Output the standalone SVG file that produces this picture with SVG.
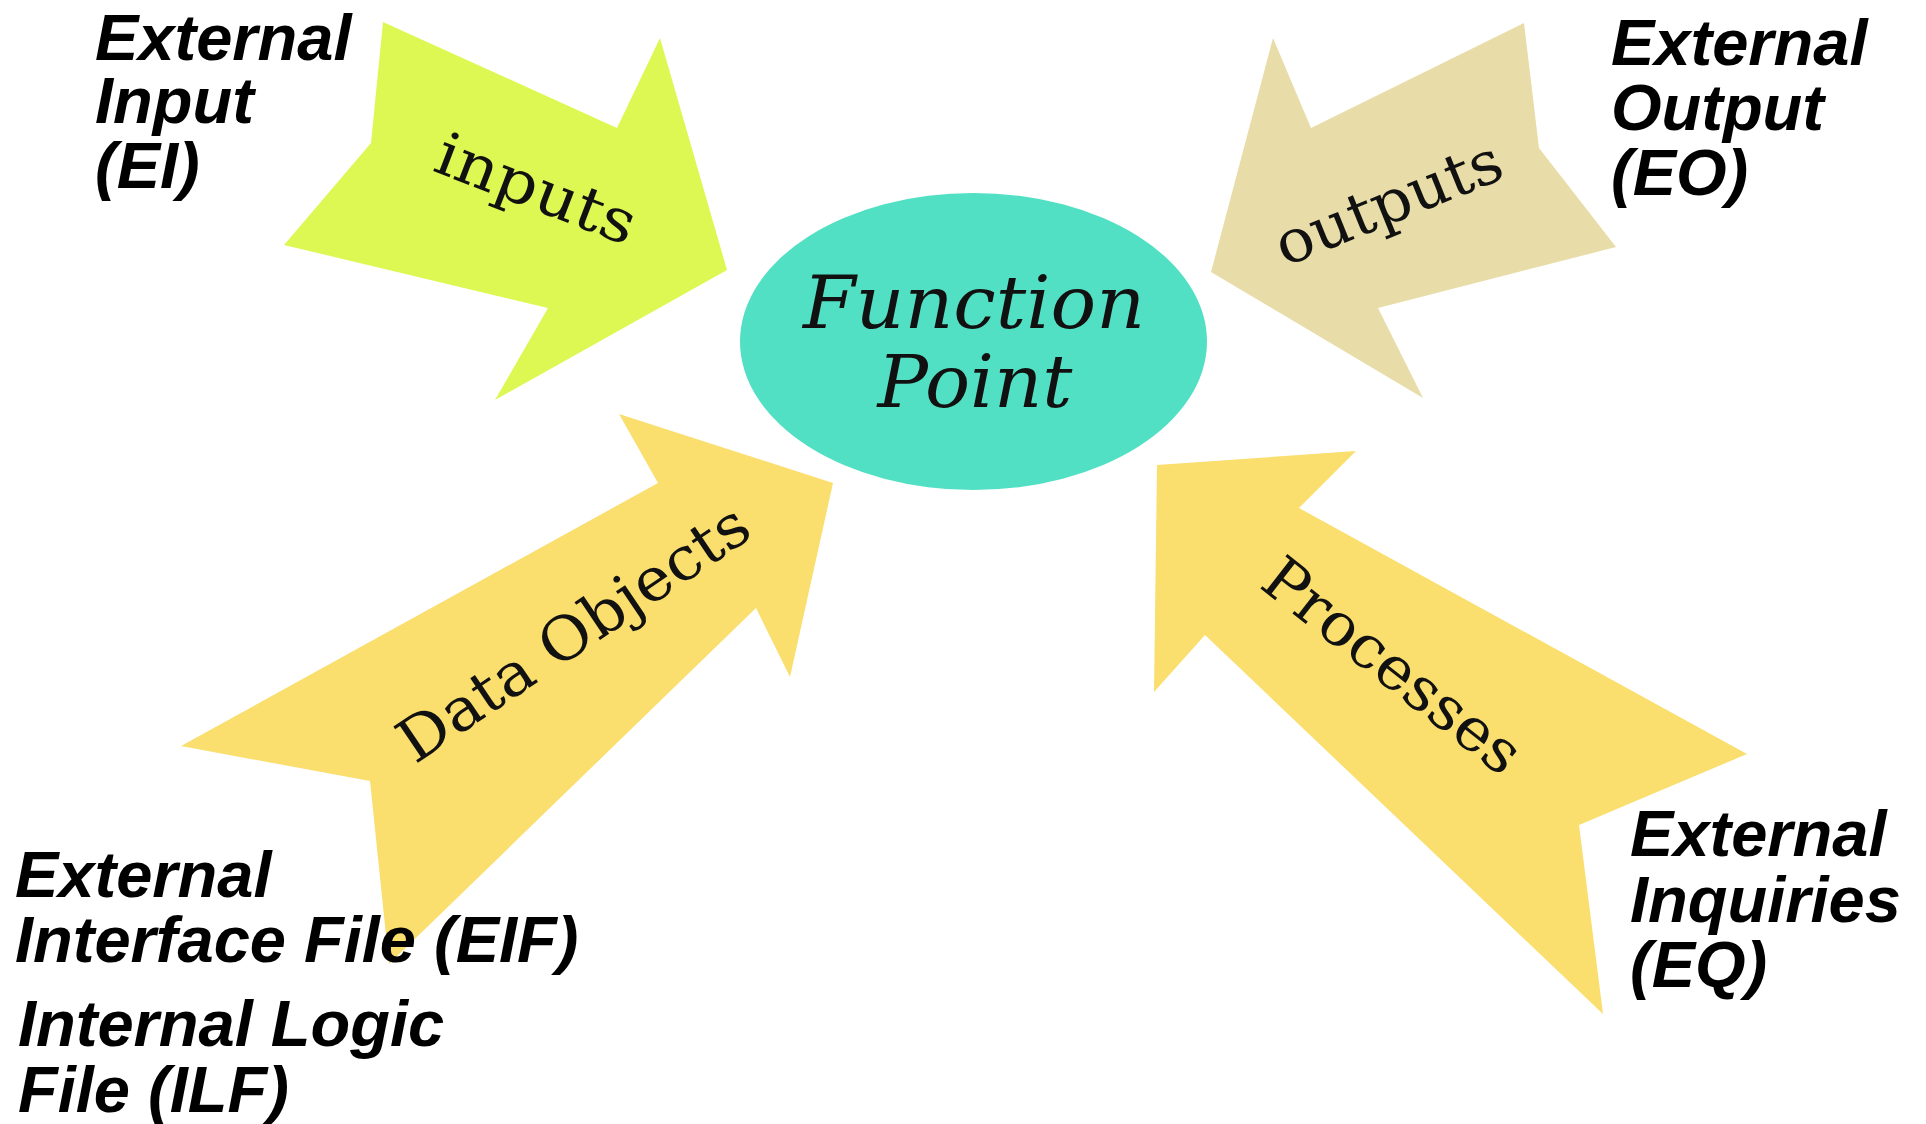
<svg xmlns="http://www.w3.org/2000/svg" width="1926" height="1124" viewBox="0 0 1926 1124">
<style>
.lbl{font-family:"Liberation Sans",Arial,sans-serif;font-weight:bold;font-style:italic;font-size:65px;fill:#000}
.arw{font-family:"DejaVu Serif","Liberation Serif",serif;font-size:60px;fill:#111}
.fp{font-family:"DejaVu Serif","Liberation Serif",serif;font-style:italic;font-size:72px;fill:#111}
</style>
<rect width="1926" height="1124" fill="#fff"/>
<g id="connectors">
<g id="arrow-inputs">
<polygon points="383,22 617,128 660,38 727,270 495,400 548,308 284,245 371,143" fill="#DDF852"/>
<text class="arw" transform="translate(529,208) rotate(21)" text-anchor="middle" textLength="210" lengthAdjust="spacingAndGlyphs">inputs</text>
</g>
<g id="arrow-outputs">
<polygon points="1524,23 1539,148 1616,247 1378,308 1423,398 1211,272 1273,38 1311,128" fill="#E8DCA8"/>
<text class="arw" transform="translate(1396,222) rotate(-22)" text-anchor="middle" textLength="240" lengthAdjust="spacingAndGlyphs">outputs</text>
</g>
<g id="arrow-data">
<polygon points="181,746 658,483 619,414 833,483 790,677 756,608 389,964 370,781" fill="#FADE6E"/>
<text class="arw" transform="translate(585,650) rotate(-34)" text-anchor="middle" textLength="410" lengthAdjust="spacingAndGlyphs">Data Objects</text>
</g>
<g id="arrow-processes">
<polygon points="1157,465 1356,451 1299,508 1747,754 1579,825 1603,1014 1205,635 1154,692" fill="#FADE6E"/>
<text class="arw" transform="translate(1380,682) rotate(38)" text-anchor="middle" textLength="310" lengthAdjust="spacingAndGlyphs">Processes</text>
</g>
</g>
<g id="function-point">
<ellipse cx="973.5" cy="341.5" rx="233.5" ry="148.5" fill="#52E0C4"/>
<text class="fp" x="974" y="328" text-anchor="middle" textLength="342" lengthAdjust="spacingAndGlyphs">Function</text>
<text class="fp" x="975" y="407" text-anchor="middle" textLength="195" lengthAdjust="spacingAndGlyphs">Point</text>
</g>
<g id="label-ei">
<text class="lbl" x="95" y="60">External</text>
<text class="lbl" x="95" y="123">Input</text>
<text class="lbl" x="95" y="188">(EI)</text>
</g>
<g id="label-eo">
<text class="lbl" x="1611" y="65">External</text>
<text class="lbl" x="1611" y="130">Output</text>
<text class="lbl" x="1611" y="195">(EO)</text>
</g>
<g id="label-eif-ilf">
<text class="lbl" x="15" y="897">External</text>
<text class="lbl" x="15" y="962">Interface File (EIF)</text>
<text class="lbl" x="18" y="1046">Internal Logic</text>
<text class="lbl" x="18" y="1112">File (ILF)</text>
</g>
<g id="label-eq">
<text class="lbl" x="1630" y="856">External</text>
<text class="lbl" x="1630" y="922">Inquiries</text>
<text class="lbl" x="1630" y="987">(EQ)</text>
</g>
</svg>
